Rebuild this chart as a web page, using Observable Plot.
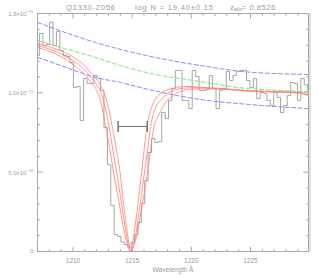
<!DOCTYPE html>
<html><head><meta charset="utf-8">
<script src="https://cdn.jsdelivr.net/npm/d3@7"></script>
<script src="https://cdn.jsdelivr.net/npm/@observablehq/plot@0.6"></script>
<style>
html,body{margin:0;padding:0;background:#fff;}
#chart svg{display:block;}
</style></head>
<body><div id="chart"></div>
<script>
// ---------- data (flux in units of 1e-15) ----------
const xDomain = [1207.0, 1229.9];
const yDomain = [0, 1.5];

const histWave = [1207.02,1207.31,1207.60,1207.88,1208.17,1208.46,1208.74,1209.03,1209.32,1209.60,
1209.89,1210.18,1210.46,1210.75,1211.04,1211.33,1211.61,1211.90,1212.19,1212.47,
1212.76,1213.05,1213.33,1213.62,1213.91,1214.19,1214.48,1214.77,1215.06,1215.34,
1215.63,1215.92,1216.20,1216.49,1216.78,1217.06,1217.35,1217.64,1217.93,1218.21,
1218.50,1218.79,1219.07,1219.36,1219.65,1219.93,1220.22,1220.51,1220.79,1221.08,
1221.37,1221.65,1221.94,1222.23,1222.51,1222.80,1223.09,1223.37,1223.66,1223.95,
1224.24,1224.52,1224.81,1225.10,1225.38,1225.67,1225.96,1226.24,1226.53,1226.82,
1227.10,1227.39,1227.68,1227.96,1228.25,1228.54,1228.82,1229.11,1229.40,1229.68,
1229.97];
const histFlux = [1.235,1.374,1.298,1.305,1.446,1.298,1.387,1.267,1.235,1.229,
1.191,1.034,1.040,0.826,1.090,1.059,1.059,1.109,1.090,1.015,
0.783,0.548,0.290,0.107,0.095,0.060,0.044,0.028,0.057,0.107,
0.183,0.303,0.447,0.624,0.712,0.687,0.693,0.876,0.838,0.952,
1.027,1.141,1.141,0.952,0.952,0.901,1.141,1.103,1.015,1.015,
1.021,1.109,1.027,0.901,1.015,1.027,1.134,1.078,1.109,1.134,
1.141,1.141,1.078,1.034,1.090,0.964,1.002,0.996,0.952,0.920,
1.002,0.971,0.876,0.920,0.983,1.065,1.059,0.952,1.090,1.052,
1.015];

// continuum and its +/- band
const contWave = [1207.02,1208.96,1211.49,1214.03,1216.56,1220.78,1223.56,1226.68,1229.81];
const contFlux = [1.330,1.286,1.232,1.172,1.122,1.071,1.037,1.018,1.008];
const contUpWave = [1207.02,1211.92,1216.56,1220.78,1225.00,1229.81];
const contUpFlux = [1.443,1.317,1.229,1.172,1.130,1.116];
const contLoWave = [1207.02,1208.96,1211.92,1214.03,1216.56,1220.78,1225.00,1229.81];
const contLoFlux = [1.223,1.172,1.097,1.065,1.018,0.958,0.926,0.901];

// fitted profiles: log N = 19.25, 19.40, 19.55
const fitLowWave = [1207.02,1207.78,1208.62,1209.47,1210.31,1210.99,1211.49,1211.92,1212.34,1212.68,
1213.01,1213.32,1213.65,1213.98,1214.17,1214.39,1214.60,1214.77,1214.87,1215.00,
1215.16,1215.38,1215.59,1215.84,1216.05,1216.26,1216.56,1216.89,1217.40,1217.82,
1218.24,1218.75,1219.34,1219.93,1220.78,1222.21,1225.00,1227.53,1229.22,1229.64,1229.89];
const fitLowFlux = [1.311,1.295,1.275,1.248,1.212,1.172,1.125,1.090,1.046,0.989,
0.901,0.788,0.649,0.498,0.366,0.233,0.113,0.038,0,0.038,
0.113,0.233,0.366,0.523,0.668,0.788,0.889,0.952,0.996,1.015,
1.025,1.034,1.040,1.040,1.035,1.029,1.013,1.007,1.001,0.991,0.988];

const fitMidWave = [1207.02,1207.78,1208.62,1209.47,1210.31,1210.99,1211.49,1211.92,1212.34,1212.68,
1213.04,1213.35,1213.69,1213.97,1214.24,1214.49,1214.70,1214.87,1215.08,1215.29,
1215.54,1215.80,1216.09,1216.35,1216.56,1216.89,1217.15,1217.40,1217.82,1218.24,
1218.75,1219.34,1219.93,1220.78,1222.21,1225.00,1227.53,1229.22,1229.64,1229.89];
const fitMidFlux = [1.298,1.281,1.259,1.226,1.187,1.144,1.100,1.059,1.005,0.920,
0.788,0.649,0.498,0.366,0.233,0.113,0.038,0,0.032,0.101,
0.227,0.366,0.523,0.668,0.788,0.889,0.933,0.952,0.986,1.008,
1.021,1.029,1.032,1.032,1.027,1.012,1.005,1.000,0.989,0.986];

const fitHighWave = [1207.02,1207.78,1208.62,1209.47,1210.31,1210.99,1211.49,1211.92,1212.08,1212.42,
1212.76,1213.10,1213.43,1213.75,1214.07,1214.36,1214.62,1214.87,1215.16,1215.42,
1215.71,1216.01,1216.35,1216.60,1216.85,1217.15,1217.40,1217.82,1218.24,1218.75,
1219.34,1219.93,1220.78,1222.21,1225.00,1227.53,1229.22,1229.64,1229.89];
const fitHighFlux = [1.286,1.267,1.243,1.207,1.160,1.116,1.071,1.027,1.005,0.920,
0.788,0.649,0.498,0.366,0.233,0.113,0.038,0,0.038,0.113,
0.233,0.366,0.523,0.668,0.788,0.845,0.882,0.939,0.972,0.996,
1.015,1.023,1.025,1.024,1.010,1.004,0.999,0.988,0.985];

// error bar
const errLo = [1213.81];
const errHi = [1216.28];
const errFlux = [0.788];

// ticks and labels
const xMajor = [1210, 1215, 1220, 1225];
const xMajorLabels = ["1210", "1215", "1220", "1225"];
const xMinor = [1208,1209,1211,1212,1213,1214,1216,1217,1218,1219,1221,1222,1223,1224,1226,1227,1228,1229];
const yMajor = [0, 0.5, 1.0, 1.5];
const yMajorBase = ["0", "5.0×10", "1.0×10", "1.5×10"];
const yMajorExp = ["", "−16", "−15", "−15"];
const yMinor = [0.1,0.2,0.3,0.4,0.6,0.7,0.8,0.9,1.1,1.2,1.3,1.4];
const xLabel = "Wavelength Å";
const titleObject = "Q1330-2056";
const titleLogN = "log N = 19.40±0.15";
const titleZ = ["z", "abs", "= 0.8526"];

// ---------- drawing ----------
const zip = (xs, ys) => xs.map((x, i) => ({x, y: ys[i]}));
const seg = (x0, y0, x1, y1) => ({draw(ctx, size) {
  const l = Math.sqrt(size / Math.PI);
  ctx.moveTo(x0 * l, y0 * l); ctx.lineTo(x1 * l, y1 * l);
}});
const up = seg(0, 0, 0, -1), down = seg(0, 0, 0, 1),
      right = seg(0, 0, 1, 0), left = seg(0, 0, -1, 0), vbar = seg(0, -1, 0, 1);

const font = "'Liberation Sans', Arial, sans-serif";
const axisC = "#a8a8a8", textC = "#9a9a9a";
const redC = "#ff7e72", blueC = "#8585ff", greenC = "#80e080";
const tickOpts = (sym, r, anchor) => ({frameAnchor: anchor, symbol: sym, r, stroke: axisC, fill: "none", strokeWidth: 1});

const chart = Plot.plot({
  width: 319, height: 279,
  marginLeft: 37, marginRight: 11, marginTop: 13, marginBottom: 28,
  x: {domain: xDomain, axis: null},
  y: {domain: yDomain, axis: null},
  style: {fontFamily: font, background: "#fff", overflow: "visible"},
  marks: [
    Plot.ruleX([xDomain[1]], {stroke: "#dcdcdc", strokeWidth: 2.4, dx: 1.2}),
    Plot.line(zip(histWave, histFlux), {x: "x", y: "y", curve: "step", stroke: "#a6a6a6", strokeWidth: 1, clip: true}),
    Plot.line(zip(contUpWave, contUpFlux), {x: "x", y: "y", curve: "monotone-x", stroke: blueC, strokeWidth: 1, strokeDasharray: "4,2.5"}),
    Plot.line(zip(contLoWave, contLoFlux), {x: "x", y: "y", curve: "monotone-x", stroke: blueC, strokeWidth: 1, strokeDasharray: "4,2.5"}),
    Plot.line(zip(contWave, contFlux), {x: "x", y: "y", curve: "monotone-x", stroke: greenC, strokeWidth: 1, strokeDasharray: "4,2.5"}),
    Plot.line(zip(fitLowWave, fitLowFlux), {x: "x", y: "y", curve: "monotone-x", stroke: redC, strokeWidth: 0.8}),
    Plot.line(zip(fitMidWave, fitMidFlux), {x: "x", y: "y", curve: "monotone-x", stroke: redC, strokeWidth: 0.8}),
    Plot.line(zip(fitHighWave, fitHighFlux), {x: "x", y: "y", curve: "monotone-x", stroke: redC, strokeWidth: 0.8}),
    Plot.link(errLo.map((d, i) => ({x1: d, x2: errHi[i], y: errFlux[i]})), {x1: "x1", x2: "x2", y1: "y", y2: "y", stroke: "#727272", strokeWidth: 1}),
    Plot.dot([...errLo, ...errHi], {x: d => d, y: () => errFlux[0], symbol: vbar, r: 5.5, stroke: "#727272", fill: "none"}),
    Plot.frame({stroke: axisC}),
    Plot.dot(xMajor, {x: d => d, ...tickOpts(up, 4.8, "bottom")}),
    Plot.dot(xMinor, {x: d => d, ...tickOpts(up, 2.4, "bottom")}),
    Plot.dot(xMajor, {x: d => d, ...tickOpts(down, 4.8, "top")}),
    Plot.dot(xMinor, {x: d => d, ...tickOpts(down, 2.4, "top")}),
    Plot.dot(yMajor, {y: d => d, ...tickOpts(right, 5.4, "left")}),
    Plot.dot(yMinor, {y: d => d, ...tickOpts(right, 2.7, "left")}),
    Plot.dot(yMajor, {y: d => d, ...tickOpts(left, 5.4, "right")}),
    Plot.dot(yMinor, {y: d => d, ...tickOpts(left, 2.7, "right")}),
    Plot.text(xMajorLabels, {x: (d, i) => xMajor[i], frameAnchor: "bottom", lineAnchor: "bottom", dy: 11.5, fontSize: 6.5, fill: textC}),
    Plot.text([xLabel], {frameAnchor: "bottom", lineAnchor: "bottom", dy: 20.5, fontSize: 6.6, fill: textC})
  ]
});

// y tick labels with raised exponents, placed through the plot's y scale
const sy = chart.scale("y");
const svg = d3.select(chart);
const gy = svg.append("g").attr("fill", textC).attr("font-family", font).attr("text-anchor", "end");
yMajor.forEach((v, i) => {
  const py = sy.apply(v);
  const t = gy.append("text").attr("x", 33.5).attr("y", py + (yMajorExp[i] ? 3 : 2)).attr("font-size", 5.8);
  t.append("tspan").text(yMajorBase[i]);
  if (yMajorExp[i]) t.append("tspan").attr("font-size", 4.3).attr("dy", -2.6).text(yMajorExp[i]);
});

// title line
const gt = svg.append("g").attr("fill", textC).attr("font-family", font).attr("font-size", 7.6)
  .attr("text-anchor", "start");
gt.append("text").attr("x", 66).attr("y", 9.5)
  .attr("textLength", 49).attr("lengthAdjust", "spacing").text(titleObject);
gt.append("text").attr("x", 135).attr("y", 9.5)
  .attr("textLength", 78).attr("lengthAdjust", "spacing").text(titleLogN);
const tz = gt.append("text").attr("x", 230).attr("y", 9.5);
tz.append("tspan").text(titleZ[0]);
tz.append("tspan").attr("font-size", 5).attr("dy", 1.8).text(titleZ[1]);
tz.append("tspan").attr("dy", -1.8).attr("letter-spacing", 0.5).text(titleZ[2]);

document.getElementById("chart").appendChild(chart);
</script>
</body></html>
